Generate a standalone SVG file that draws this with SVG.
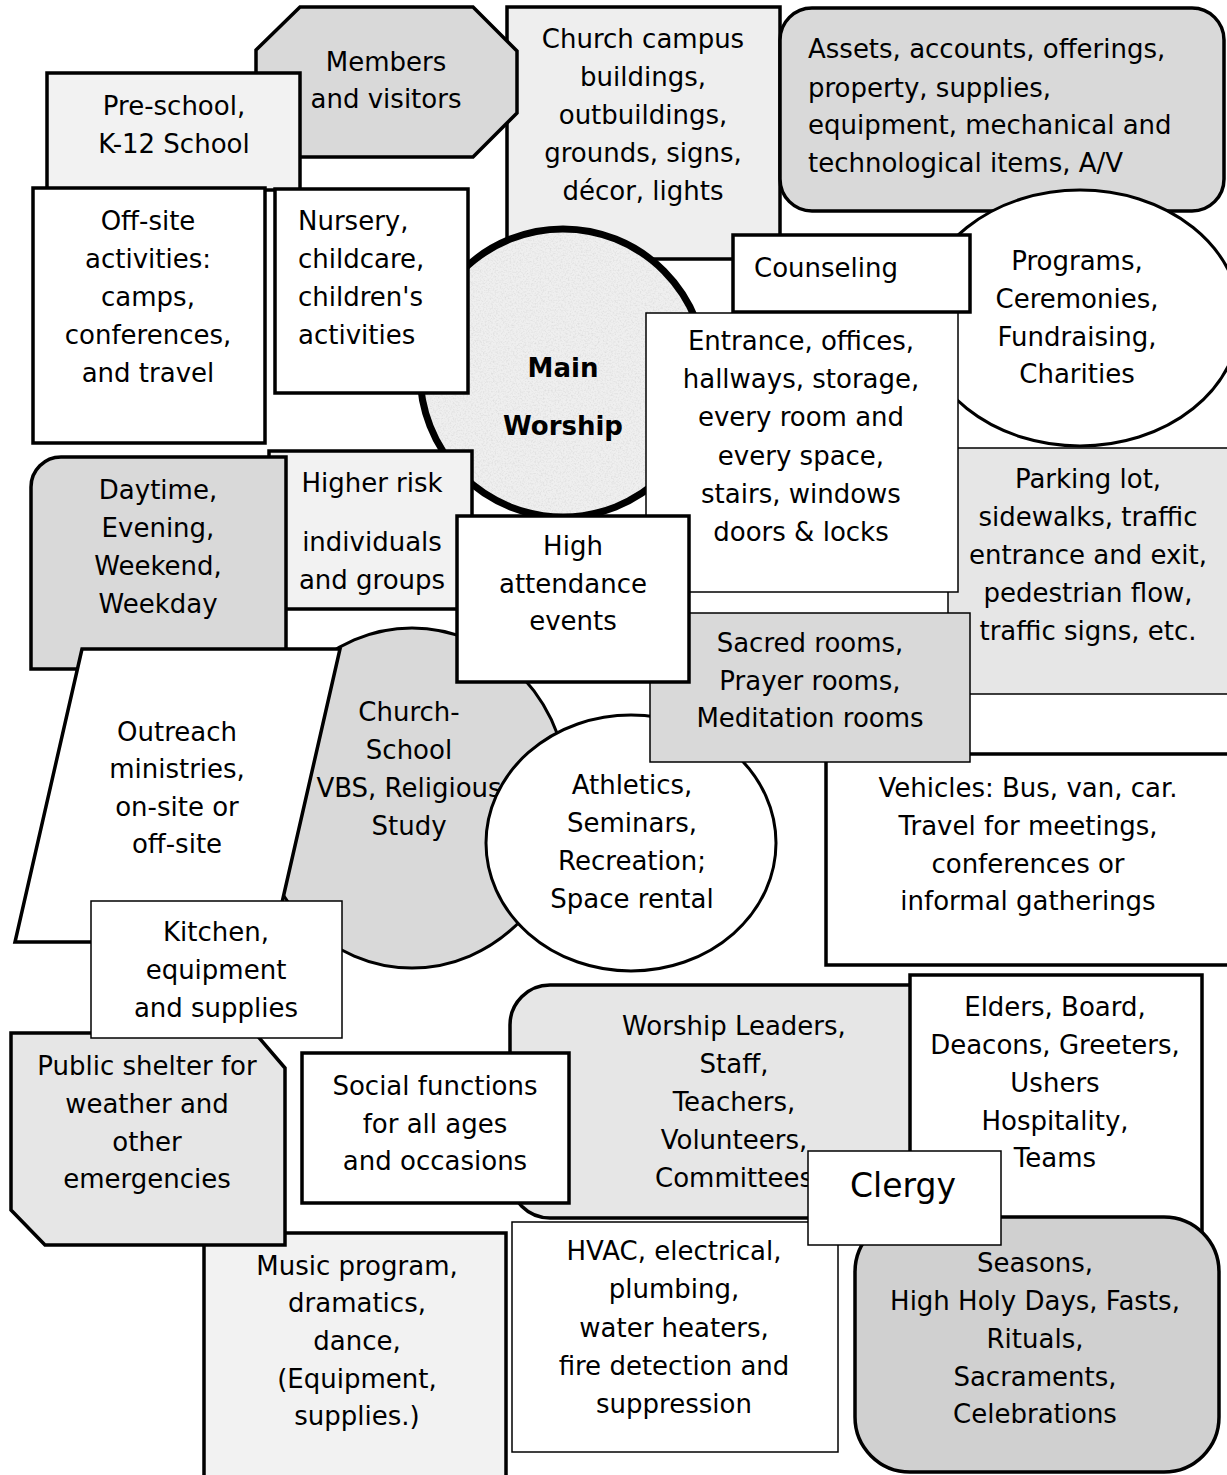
<svg xmlns="http://www.w3.org/2000/svg" width="1227" height="1475" viewBox="0 0 1227 1475">
<style>
.k{stroke:#000;stroke-width:3.5}
.n{stroke:#000;stroke-width:1.5}
text{font-family:"DejaVu Sans","Liberation Sans",sans-serif;font-size:26px;fill:#000;text-anchor:middle}
.l{text-anchor:start}
.b{font-weight:bold}
</style>
<defs>
<filter id="granite" x="0" y="0" width="100%" height="100%">
<feTurbulence type="fractalNoise" baseFrequency="0.6" numOctaves="3" seed="7" result="t"/>
<feColorMatrix in="t" type="matrix" values="0 0 0 0 0.66  0 0 0 0 0.66  0 0 0 0 0.66  1.4 0 0 0 -0.6" result="c"/>
<feComposite in="c" in2="SourceAlpha" operator="in"/>
</filter>
</defs>
<rect width="1227" height="1475" fill="#fff"/>

<g id="church-campus">
<rect x="507" y="7" width="273" height="252" fill="#eeeeee" class="k"/>
<text><tspan x="643" y="48">Church campus</tspan><tspan x="643" y="86">buildings,</tspan><tspan x="643" y="124">outbuildings,</tspan><tspan x="643" y="162">grounds, signs,</tspan><tspan x="643" y="200">décor, lights</tspan></text>
</g>
<g id="members">
<polygon points="256,50 300,7 473,7 517,51 517,113 473,157 300,157 256,113" fill="#d9d9d9" class="k"/>
<text><tspan x="386" y="71">Members</tspan><tspan x="386" y="108">and visitors</tspan></text>
</g>
<g id="main-worship">
<ellipse cx="563" cy="373" rx="143" ry="144" fill="#efefef"/>
<ellipse cx="563" cy="373" rx="143" ry="144" fill="#000" filter="url(#granite)"/>
<ellipse cx="563" cy="373" rx="143" ry="144" fill="none" stroke="#000" stroke-width="7"/>
<text class="b"><tspan x="563" y="377">Main</tspan><tspan x="563" y="435">Worship</tspan></text>
</g>
<g id="pre-school">
<rect x="47" y="73" width="253" height="117" fill="#f2f2f2" class="k"/>
<text><tspan x="174" y="115">Pre-school,</tspan><tspan x="174" y="153">K-12 School</tspan></text>
</g>
<g id="off-site">
<rect x="33" y="188" width="232" height="255" fill="#fff" class="k"/>
<text><tspan x="148" y="230">Off-site</tspan><tspan x="148" y="268">activities:</tspan><tspan x="148" y="306">camps,</tspan><tspan x="148" y="344">conferences,</tspan><tspan x="148" y="382">and travel</tspan></text>
</g>
<g id="nursery">
<rect x="275" y="189" width="193" height="204" fill="#fff" class="k"/>
<text class="l"><tspan x="298" y="230">Nursery,</tspan><tspan x="298" y="268">childcare,</tspan><tspan x="298" y="306">children's</tspan><tspan x="298" y="344">activities</tspan></text>
</g>
<g id="assets">
<rect x="780" y="8" width="444" height="203" rx="32" fill="#d9d9d9" class="k"/>
<text class="l"><tspan x="808" y="58">Assets, accounts, offerings,</tspan><tspan x="808" y="97">property, supplies,</tspan><tspan x="808" y="134">equipment, mechanical and</tspan><tspan x="808" y="172">technological items, A/V</tspan></text>
</g>
<g id="programs">
<ellipse cx="1080" cy="318" rx="160" ry="128" fill="#fff" stroke="#000" stroke-width="3"/>
<text><tspan x="1077" y="270">Programs,</tspan><tspan x="1077" y="308">Ceremonies,</tspan><tspan x="1077" y="346">Fundraising,</tspan><tspan x="1077" y="383">Charities</tspan></text>
</g>
<g id="counseling">
<rect x="733" y="235" width="237" height="77" fill="#fff" class="k"/>
<text class="l" x="754" y="277">Counseling</text>
</g>
<g id="parking">
<rect x="948" y="448" width="290" height="246" fill="#e6e6e6" class="n"/>
<text><tspan x="1088" y="488">Parking lot,</tspan><tspan x="1088" y="526">sidewalks, traffic</tspan><tspan x="1088" y="564">entrance and exit,</tspan><tspan x="1088" y="602">pedestrian flow,</tspan><tspan x="1088" y="640">traffic signs, etc.</tspan></text>
</g>
<g id="entrance">
<rect x="646" y="313" width="312" height="279" fill="#fff" class="n"/>
<text><tspan x="801" y="350">Entrance, offices,</tspan><tspan x="801" y="388">hallways, storage,</tspan><tspan x="801" y="426">every room and</tspan><tspan x="801" y="465">every space,</tspan><tspan x="801" y="503">stairs, windows</tspan><tspan x="801" y="541">doors &amp; locks</tspan></text>
</g>
<g id="higher-risk">
<rect x="269" y="451" width="203" height="158" fill="#f2f2f2" class="k"/>
<text><tspan x="372" y="492">Higher risk</tspan><tspan x="372" y="551">individuals</tspan><tspan x="372" y="589">and groups</tspan></text>
</g>
<g id="daytime">
<path d="M31,487 A30,30 0 0 1 61,457 L286,457 L286,651 A18,18 0 0 1 268,669 L31,669 Z" fill="#d9d9d9" class="k"/>
<text><tspan x="158" y="499">Daytime,</tspan><tspan x="158" y="537">Evening,</tspan><tspan x="158" y="575">Weekend,</tspan><tspan x="158" y="613">Weekday</tspan></text>
</g>
<g id="church-school">
<ellipse cx="412" cy="798" rx="157" ry="170" fill="#d9d9d9" stroke="#000" stroke-width="3"/>
<text><tspan x="409" y="721">Church-</tspan><tspan x="409" y="759">School</tspan><tspan x="409" y="797">VBS, Religious</tspan><tspan x="409" y="835">Study</tspan></text>
</g>
<g id="athletics">
<ellipse cx="631" cy="843" rx="145" ry="128" fill="#fff" stroke="#000" stroke-width="3"/>
<text><tspan x="632" y="794">Athletics,</tspan><tspan x="632" y="832">Seminars,</tspan><tspan x="632" y="870">Recreation;</tspan><tspan x="632" y="908">Space rental</tspan></text>
</g>
<g id="vehicles">
<rect x="826" y="754" width="410" height="211" fill="#fff" class="k"/>
<text><tspan x="1028" y="797">Vehicles: Bus, van, car.</tspan><tspan x="1028" y="835">Travel for meetings,</tspan><tspan x="1028" y="873">conferences or</tspan><tspan x="1028" y="910">informal gatherings</tspan></text>
</g>
<g id="sacred">
<rect x="650" y="613" width="320" height="149" fill="#d9d9d9" class="n"/>
<text><tspan x="810" y="652">Sacred rooms,</tspan><tspan x="810" y="690">Prayer rooms,</tspan><tspan x="810" y="727">Meditation rooms</tspan></text>
</g>
<g id="high-attendance">
<rect x="457" y="516" width="232" height="166" fill="#fff" class="k"/>
<text><tspan x="573" y="555">High</tspan><tspan x="573" y="593">attendance</tspan><tspan x="573" y="630">events</tspan></text>
</g>
<g id="outreach">
<polygon points="82,649 340,649 273,942 15,942" fill="#fff" class="k"/>
<text><tspan x="177" y="741">Outreach</tspan><tspan x="177" y="778">ministries,</tspan><tspan x="177" y="816">on-site or</tspan><tspan x="177" y="853">off-site</tspan></text>
</g>
<g id="music">
<rect x="204" y="1233" width="302" height="260" fill="#f2f2f2" class="k"/>
<text><tspan x="357" y="1275">Music program,</tspan><tspan x="357" y="1312">dramatics,</tspan><tspan x="357" y="1350">dance,</tspan><tspan x="357" y="1388">(Equipment,</tspan><tspan x="357" y="1425">supplies.)</tspan></text>
</g>
<g id="public-shelter">
<polygon points="11,1033 255,1033 285,1068 285,1245 45,1245 11,1210" fill="#e6e6e6" class="k"/>
<text><tspan x="147" y="1075">Public shelter for</tspan><tspan x="147" y="1113">weather and</tspan><tspan x="147" y="1151">other</tspan><tspan x="147" y="1188">emergencies</tspan></text>
</g>
<g id="kitchen">
<rect x="91" y="901" width="251" height="137" fill="#fff" class="n"/>
<text><tspan x="216" y="941">Kitchen,</tspan><tspan x="216" y="979">equipment</tspan><tspan x="216" y="1017">and supplies</tspan></text>
</g>
<g id="worship-leaders">
<rect x="510" y="985" width="440" height="233" rx="40" fill="#e6e6e6" class="k"/>
<text><tspan x="734" y="1035">Worship Leaders,</tspan><tspan x="734" y="1073">Staff,</tspan><tspan x="734" y="1111">Teachers,</tspan><tspan x="734" y="1149">Volunteers,</tspan><tspan x="734" y="1187">Committees</tspan></text>
</g>
<g id="social">
<rect x="302" y="1053" width="267" height="150" fill="#fff" class="k"/>
<text><tspan x="435" y="1095">Social functions</tspan><tspan x="435" y="1133">for all ages</tspan><tspan x="435" y="1170">and occasions</tspan></text>
</g>
<g id="elders">
<rect x="910" y="975" width="292" height="265" fill="#fff" class="k"/>
<text><tspan x="1055" y="1016">Elders, Board,</tspan><tspan x="1055" y="1054">Deacons, Greeters,</tspan><tspan x="1055" y="1092">Ushers</tspan><tspan x="1055" y="1130">Hospitality,</tspan><tspan x="1055" y="1167">Teams</tspan></text>
</g>
<g id="seasons">
<rect x="855" y="1217" width="364" height="255" rx="55" fill="#d0d0d0" class="k"/>
<text><tspan x="1035" y="1272">Seasons,</tspan><tspan x="1035" y="1310">High Holy Days, Fasts,</tspan><tspan x="1035" y="1348">Rituals,</tspan><tspan x="1035" y="1386">Sacraments,</tspan><tspan x="1035" y="1423">Celebrations</tspan></text>
</g>
<g id="hvac">
<rect x="512" y="1222" width="326" height="230" fill="#fff" class="n"/>
<text><tspan x="674" y="1260">HVAC, electrical,</tspan><tspan x="674" y="1298">plumbing,</tspan><tspan x="674" y="1337">water heaters,</tspan><tspan x="674" y="1375">fire detection and</tspan><tspan x="674" y="1413">suppression</tspan></text>
</g>
<g id="clergy">
<rect x="808" y="1151" width="193" height="94" fill="#fff" class="n"/>
<text x="903" y="1197" style="font-size:33px">Clergy</text>
</g>
<g id="connectors"></g>
</svg>
